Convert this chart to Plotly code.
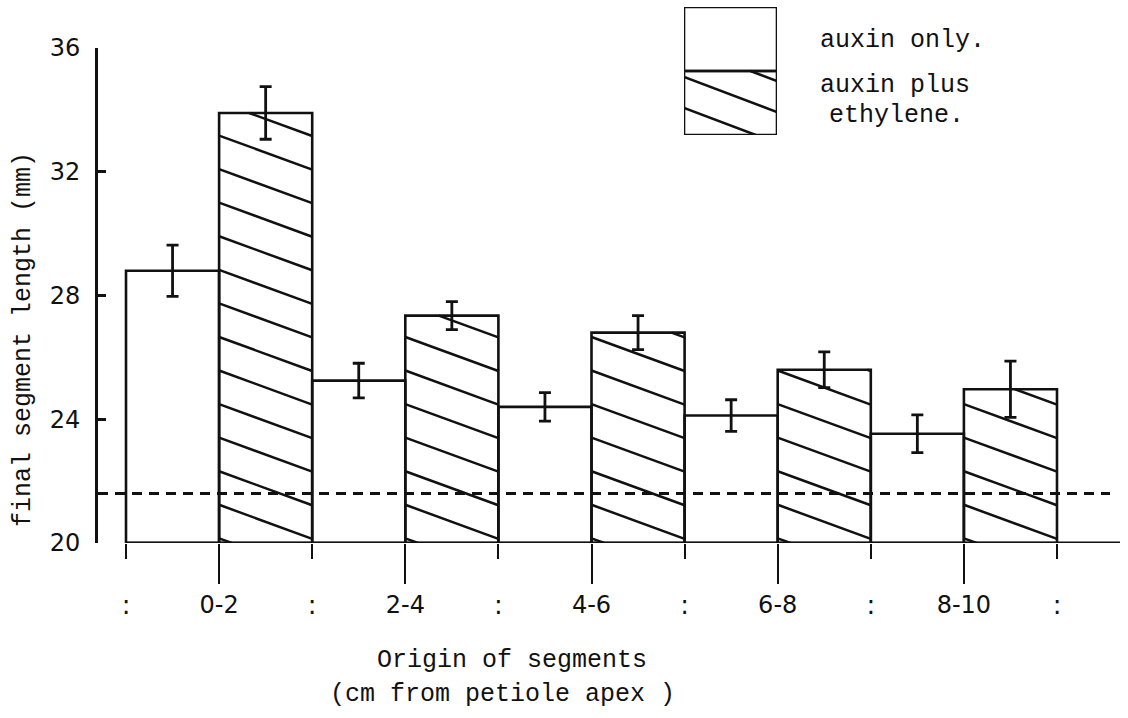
import plotly.graph_objects as go

# ---- data -------------------------------------------------------------
segments = ["0-2", "2-4", "4-6", "6-8", "8-10"]          # cm from petiole apex
auxin_only = [28.8, 25.25, 24.4, 24.12, 23.53]           # final length, mm
auxin_only_err = [0.83, 0.56, 0.46, 0.51, 0.61]
auxin_ethylene = [33.9, 27.35, 26.8, 25.6, 24.97]
auxin_ethylene_err = [0.85, 0.45, 0.55, 0.58, 0.91]
initial_length = 21.6                                     # dashed reference level
y_ticks = [20, 24, 28, 32, 36]

# ---- page geometry ------------------------------------------------------
W, H = 1128, 718
BASE = 20


def px_x(px):
    return px / W


def px_y(py):
    return 1 - py / H


# main axes: bar width of 1 unit, pairs side by side
bar_left_px, bar_w_px = 126, 93.1
ax_left_px, ax_right_px = 98, 1120
x_range = [-0.5 + (ax_left_px - bar_left_px) / bar_w_px,
           -0.5 + (ax_right_px - bar_left_px) / bar_w_px]
y_top_px, y_bot_px = 48, 543

INK = "#111111"
MONO = "Liberation Mono, Courier New, monospace"
SANS = "DejaVu Sans, sans-serif"

x_aux = [2 * i for i in range(len(segments))]
x_eth = [2 * i + 1 for i in range(len(segments))]
pair_mid = [2 * i + 0.5 for i in range(len(segments))]
pair_edges = [2 * i - 0.5 for i in range(len(segments) + 1)]


def hatch(x0, x1, y0, y1, spacing, drop, phase):
    """Descending diagonal hatch lines clipped to a rectangle."""
    xs, ys = [], []
    w = x1 - x0
    c = y0 + phase
    while c - spacing >= y0:
        c -= spacing
    while c < y1 + drop:
        xa = x0 if c <= y1 else x0 + (c - y1) / drop * w
        xb = x1 if c - drop >= y0 else x0 + (c - y0) / drop * w
        if xb > xa + 1e-6:
            xs += [xa, xb, None]
            ys += [c - drop * (xa - x0) / w, c - drop * (xb - x0) / w, None]
        c += spacing
    return xs, ys


fig = go.Figure()

# hatching on the auxin + ethylene bars
hx, hy = [], []
for xc, v in zip(x_eth, auxin_ethylene):
    sx, sy = hatch(xc - 0.5, xc + 0.5, BASE, v, 1.085, 1.1, 0.15)
    hx += sx
    hy += sy
fig.add_trace(go.Scatter(x=hx, y=hy, mode="lines", hoverinfo="skip",
                         line=dict(color=INK, width=2.5), cliponaxis=False))

bar_line = dict(color=INK, width=2.6)
err_style = dict(type="data", thickness=2.8, width=6, color=INK)

fig.add_trace(go.Bar(
    x=x_aux, y=[v - BASE for v in auxin_only], base=BASE, width=1,
    marker=dict(color="rgba(255,255,255,0)", line=bar_line),
    error_y=dict(array=auxin_only_err, **err_style),
    cliponaxis=False, name="auxin only."))
fig.add_trace(go.Bar(
    x=x_eth, y=[v - BASE for v in auxin_ethylene], base=BASE, width=1,
    marker=dict(color="rgba(255,255,255,0)", line=bar_line),
    error_y=dict(array=auxin_ethylene_err, **err_style),
    cliponaxis=False, name="auxin plus ethylene."))

# baseline running from the first bar to the right end
fig.add_trace(go.Scatter(x=[pair_edges[0], x_range[1]], y=[BASE, BASE],
                         mode="lines", line=dict(color=INK, width=2.8),
                         hoverinfo="skip", cliponaxis=False))

# dashed reference level
fig.add_shape(type="line", xref="x domain", yref="y",
              x0=0, x1=(1110 - ax_left_px) / (ax_right_px - ax_left_px),
              y0=initial_length, y1=initial_length,
              line=dict(color=INK, width=2.8, dash="10px,7px"))

# ---- legend swatches (own small axes) ----------------------------------
fig.add_trace(go.Bar(x=[0], y=[1], base=1, width=1, xaxis="x2", yaxis="y2",
                     marker=dict(color="white", line=bar_line), cliponaxis=False))
lx, ly = hatch(-0.5, 0.5, 0, 1, 31 / 64, 35 / 64, 27 / 64)
fig.add_trace(go.Scatter(x=lx, y=ly, mode="lines", xaxis="x2", yaxis="y2",
                         line=dict(color=INK, width=2.5), cliponaxis=False,
                         hoverinfo="skip"))
fig.add_trace(go.Bar(x=[0], y=[1], base=0, width=1, xaxis="x2", yaxis="y2",
                     marker=dict(color="rgba(255,255,255,0)", line=bar_line),
                     cliponaxis=False))

legend_text = [("auxin only.", 818, 40), ("auxin plus", 818, 86), ("ethylene.", 827, 115)]
for txt, tx, ty in legend_text:
    fig.add_annotation(text=txt, x=px_x(tx), y=px_y(ty), xref="paper", yref="paper",
                       xanchor="left", yanchor="middle", showarrow=False,
                       font=dict(family=MONO, size=25, color=INK))

# axis titles
fig.add_annotation(text="final segment length (mm)", x=px_x(24), y=px_y(340),
                   xref="paper", yref="paper", textangle=-90, showarrow=False,
                   xanchor="center", yanchor="middle",
                   font=dict(family=MONO, size=25, color=INK))
fig.add_annotation(text="Origin of segments", x=px_x(512), y=px_y(660),
                   xref="paper", yref="paper", showarrow=False,
                   xanchor="center", yanchor="middle",
                   font=dict(family=MONO, size=25, color=INK))
fig.add_annotation(text="(cm from petiole apex )", x=px_x(502), y=px_y(694),
                   xref="paper", yref="paper", showarrow=False,
                   xanchor="center", yanchor="middle",
                   font=dict(family=MONO, size=25, color=INK))

fig.update_layout(
    template="none",
    width=W, height=H, autosize=False,
    margin=dict(l=0, r=0, t=0, b=0, pad=0),
    paper_bgcolor="white", plot_bgcolor="white",
    showlegend=False, barmode="overlay",
    xaxis=dict(domain=[px_x(ax_left_px), px_x(ax_right_px)], range=x_range,
               tickmode="array", tickvals=pair_mid, ticktext=segments,
               ticks="outside", ticklen=40, tickwidth=2, tickcolor=INK,
               showline=False, showgrid=False, zeroline=False, automargin=False,
               tickfont=dict(family=SANS, size=24, color=INK)),
    xaxis3=dict(overlaying="x", anchor="y", side="bottom", range=x_range,
                tickmode="array", tickvals=pair_edges,
                ticktext=[":"] * len(pair_edges),
                ticks="outside", ticklen=15, tickwidth=2, tickcolor=INK,
                ticklabelstandoff=24, automargin=False,
                showline=False, showgrid=False, zeroline=False,
                tickfont=dict(family=SANS, size=26, color=INK)),
    yaxis=dict(domain=[px_y(y_bot_px), px_y(y_top_px)], range=[BASE, 36],
               tickmode="array", tickvals=y_ticks,
               ticks="inside", ticklen=8, tickwidth=2.6, tickcolor=INK,
               showline=True, linewidth=2.6, linecolor=INK, automargin=False,
               showgrid=False, zeroline=False, ticklabelstandoff=10,
               tickfont=dict(family=SANS, size=24, color=INK)),
    xaxis2=dict(domain=[px_x(684), px_x(777)], range=[-0.5, 0.5], anchor="y2",
                visible=False, automargin=False),
    yaxis2=dict(domain=[px_y(135), px_y(7)], range=[0, 2], anchor="x2",
                visible=False, automargin=False),
)

# invisible trace so the overlaying tick axis is drawn
fig.add_trace(go.Scatter(x=[pair_edges[0]], y=[BASE], xaxis="x3", mode="markers",
                         marker=dict(opacity=0), hoverinfo="skip"))

fig.write_html("out.html")
